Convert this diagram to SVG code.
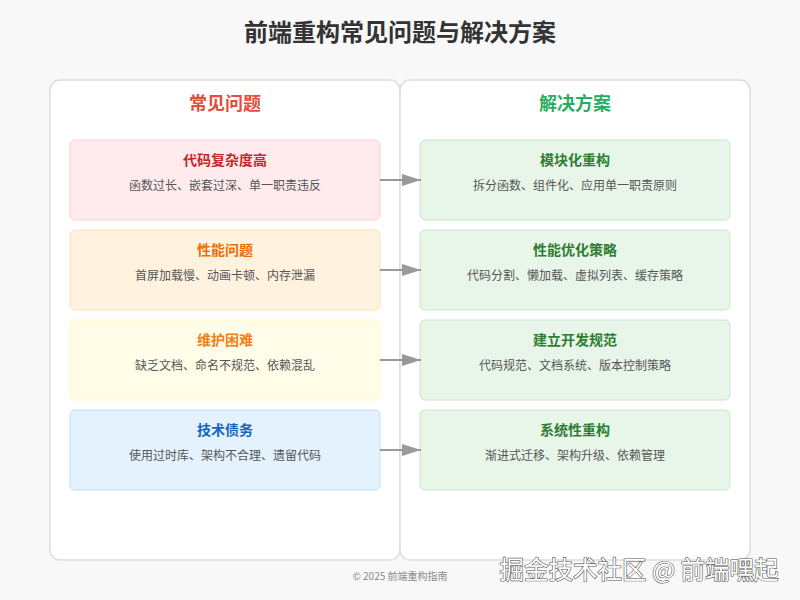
<svg xmlns="http://www.w3.org/2000/svg" width="800" height="600" viewBox="0 0 800 600">
<defs>
<marker id="arr" markerWidth="20" markerHeight="14" refX="19" refY="7" orient="auto" markerUnits="userSpaceOnUse">
<path d="M0,1 L19,7 L0,13 Z" fill="#999"/>
</marker>
<style>
text{font-family:"Noto Sans CJK SC","Liberation Sans",sans-serif;text-anchor:middle}
.title{font-size:24px;font-weight:bold;fill:#333}
.panel{fill:#fff;stroke:#ddd;stroke-width:1.5}
.ph{font-size:18px;font-weight:bold}
.bt{font-size:14px;font-weight:bold}
.bs{font-size:12px;fill:#555}
.conn{stroke:#999;stroke-width:2;fill:none}
.sol rect{fill:#e8f5e9;stroke:#c8e6c9}
.sol .bt{fill:#2e7d32}
</style>
</defs>
<rect width="800" height="600" fill="#f8f8f8"/>
<text class="title" x="400" y="41">前端重构常见问题与解决方案</text>
<g id="panel-problems">
<rect class="panel" x="50" y="80" width="350" height="480" rx="10"/>
<text class="ph" x="225" y="110" fill="#e74c3c">常见问题</text>
</g>
<g id="panel-solutions">
<rect class="panel" x="400" y="80" width="350" height="480" rx="10"/>
<text class="ph" x="575" y="110" fill="#27ae60">解决方案</text>
</g>
<g id="p1"><rect x="70" y="140" width="310" height="80" rx="5" fill="#ffebee" stroke="#ffcdd2"/>
<text class="bt" x="225" y="165" fill="#c62828">代码复杂度高</text>
<text class="bs" x="225" y="190">函数过长、嵌套过深、单一职责违反</text></g>
<g id="p2"><rect x="70" y="230" width="310" height="80" rx="5" fill="#fff3e0" stroke="#ffe0b2"/>
<text class="bt" x="225" y="255" fill="#ef6c00">性能问题</text>
<text class="bs" x="225" y="280">首屏加载慢、动画卡顿、内存泄漏</text></g>
<g id="p3"><rect x="70" y="320" width="310" height="80" rx="5" fill="#fffde7" stroke="#fff9c4"/>
<text class="bt" x="225" y="345" fill="#f57f17">维护困难</text>
<text class="bs" x="225" y="370">缺乏文档、命名不规范、依赖混乱</text></g>
<g id="p4"><rect x="70" y="410" width="310" height="80" rx="5" fill="#e3f2fd" stroke="#bbdefb"/>
<text class="bt" x="225" y="435" fill="#1565c0">技术债务</text>
<text class="bs" x="225" y="460">使用过时库、架构不合理、遗留代码</text></g>
<g id="s1" class="sol"><rect x="420" y="140" width="310" height="80" rx="5"/>
<text class="bt" x="575" y="165">模块化重构</text>
<text class="bs" x="575" y="190">拆分函数、组件化、应用单一职责原则</text></g>
<g id="s2" class="sol"><rect x="420" y="230" width="310" height="80" rx="5"/>
<text class="bt" x="575" y="255">性能优化策略</text>
<text class="bs" x="575" y="280">代码分割、懒加载、虚拟列表、缓存策略</text></g>
<g id="s3" class="sol"><rect x="420" y="320" width="310" height="80" rx="5"/>
<text class="bt" x="575" y="345">建立开发规范</text>
<text class="bs" x="575" y="370">代码规范、文档系统、版本控制策略</text></g>
<g id="s4" class="sol"><rect x="420" y="410" width="310" height="80" rx="5"/>
<text class="bt" x="575" y="435">系统性重构</text>
<text class="bs" x="575" y="460">渐进式迁移、架构升级、依赖管理</text></g>
<g id="connectors">
<line class="conn" x1="380" y1="180" x2="421" y2="180" marker-end="url(#arr)"/>
<line class="conn" x1="380" y1="270" x2="421" y2="270" marker-end="url(#arr)"/>
<line class="conn" x1="380" y1="360" x2="421" y2="360" marker-end="url(#arr)"/>
<line class="conn" x1="380" y1="450" x2="421" y2="450" marker-end="url(#arr)"/>
</g>
<text x="400" y="580" font-size="10" fill="#888">© 2025 前端重构指南</text>
<text x="639" y="579" font-size="24.5" fill="#fff" stroke="#555" stroke-width="1.2" paint-order="stroke">掘金技术社区 @ 前端嘿起</text>
</svg>
